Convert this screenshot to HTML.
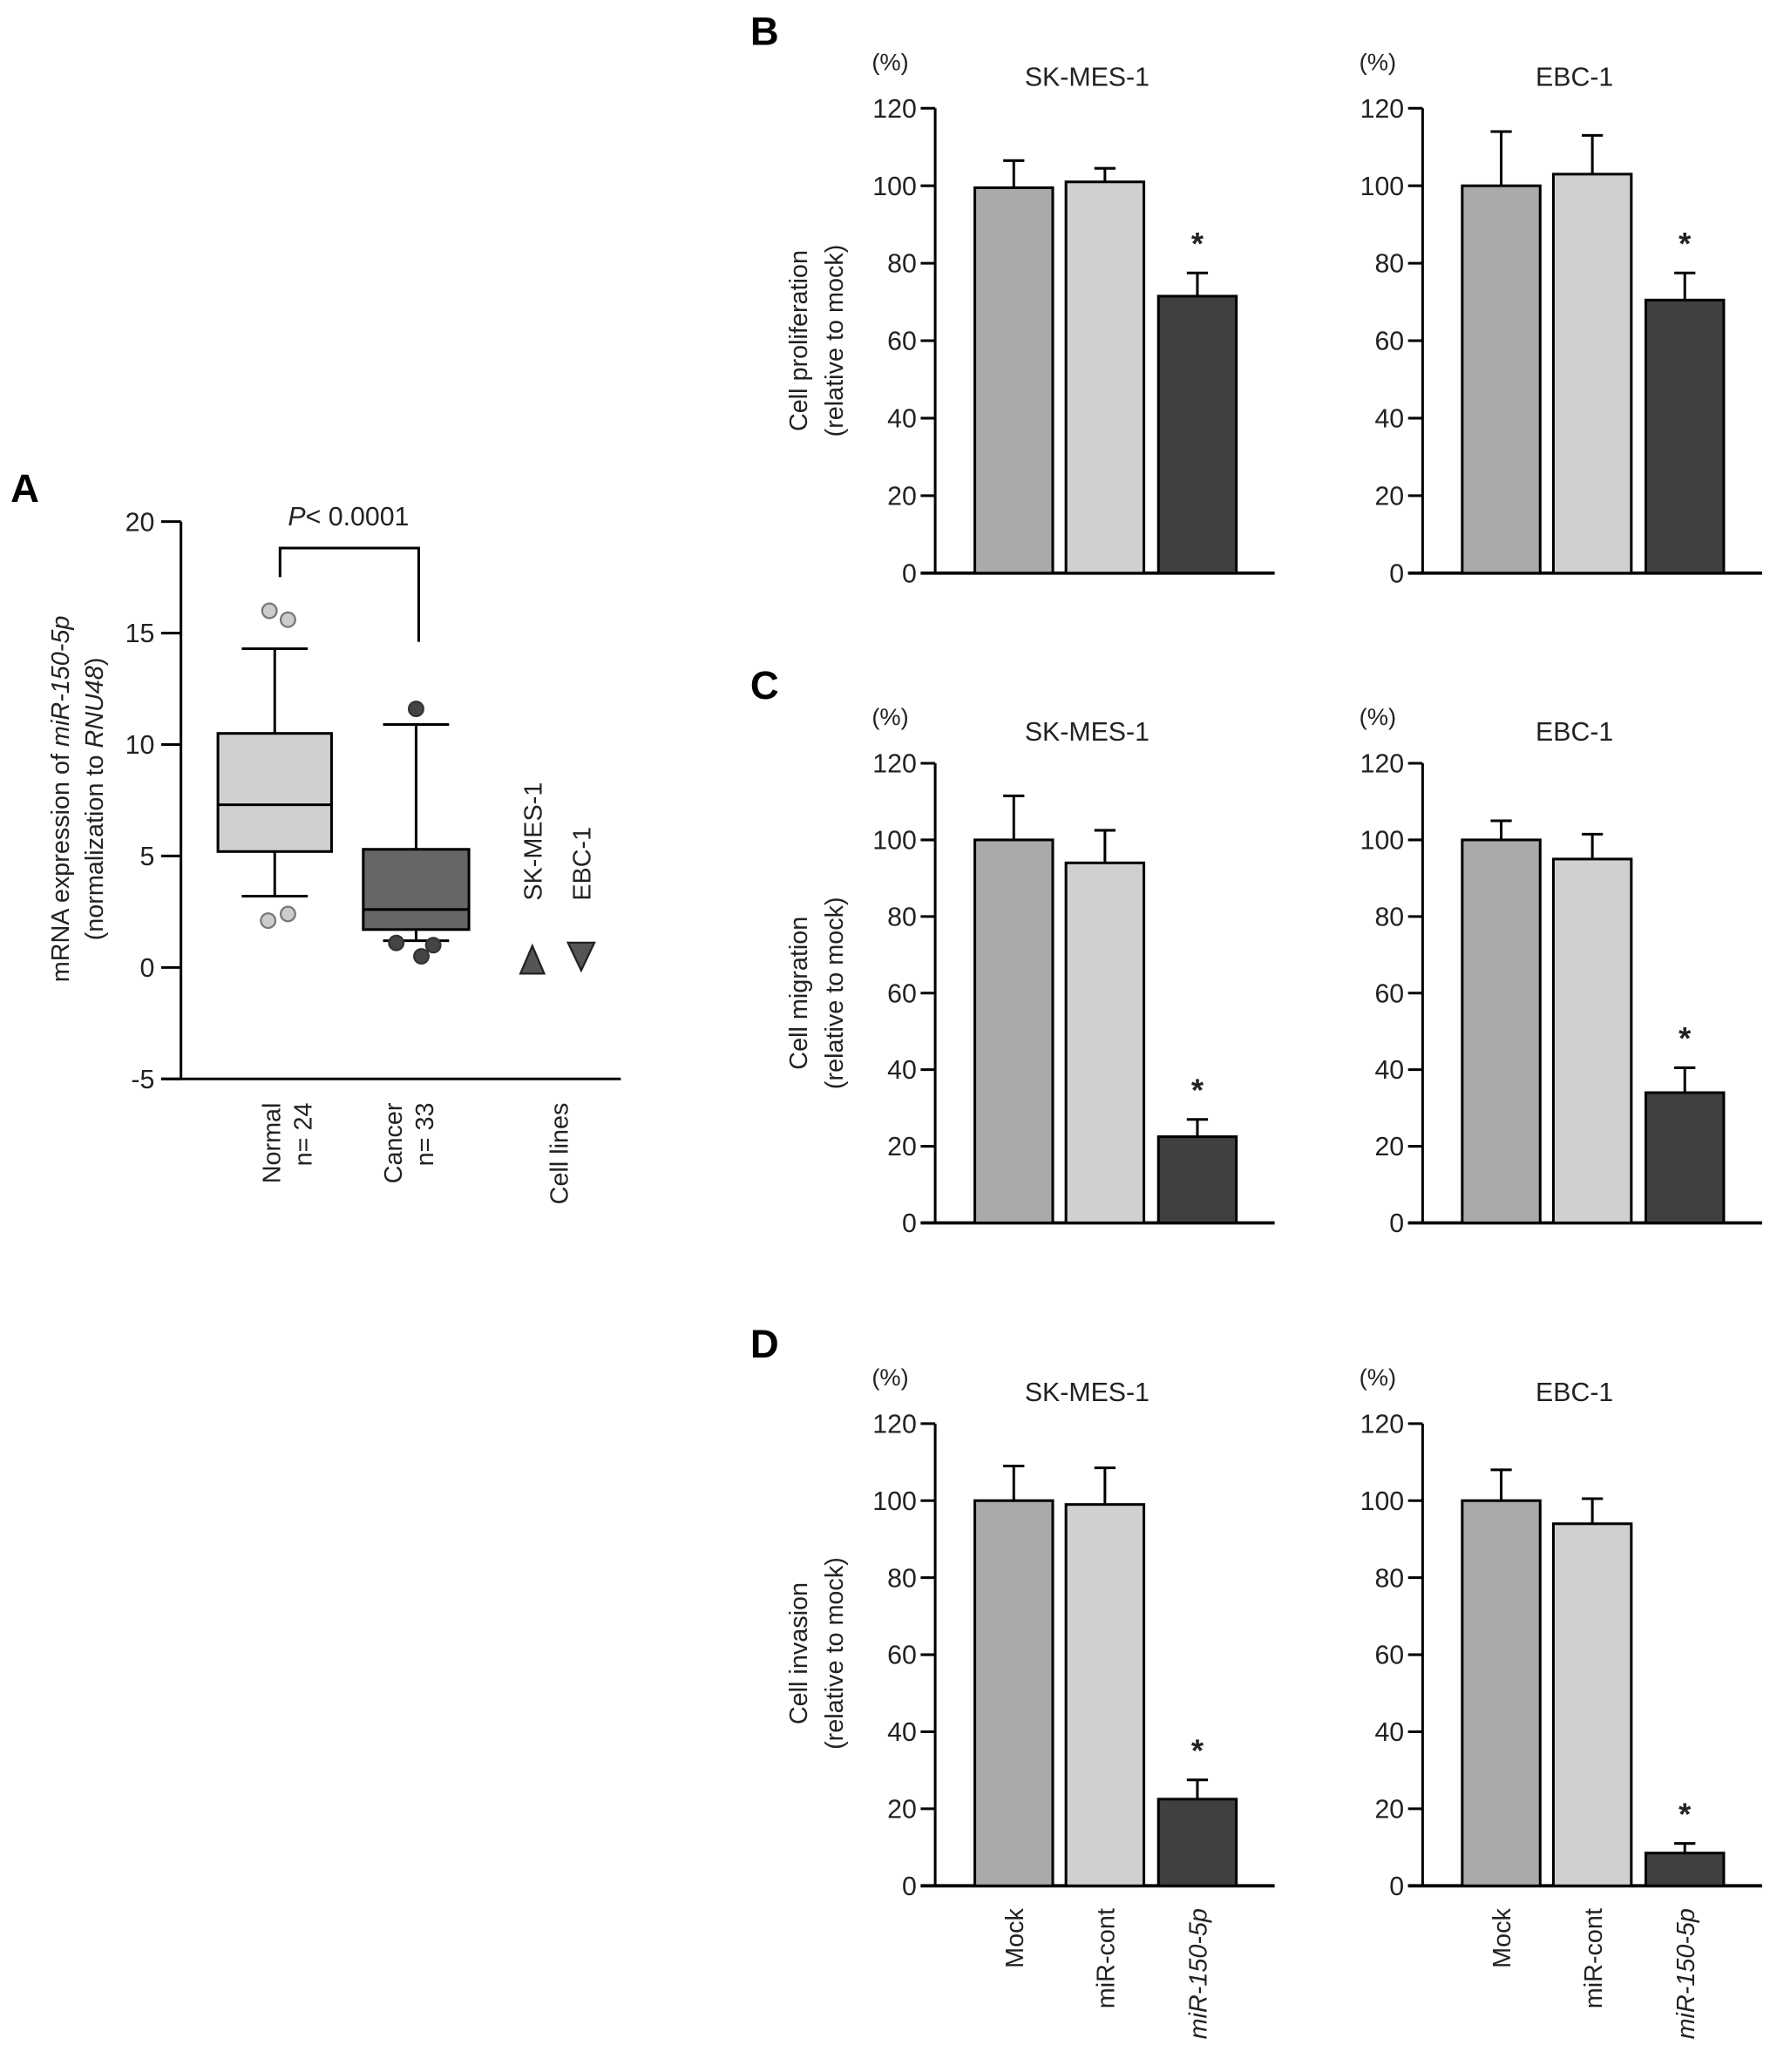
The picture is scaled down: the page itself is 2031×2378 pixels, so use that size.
<!DOCTYPE html>
<html><head><meta charset="utf-8"><style>
html,body{margin:0;padding:0;background:#fff;}
svg{display:block;font-family:"Liberation Sans",Arial,sans-serif;}
</style></head><body>
<svg id="fig" width="2031" height="2378" viewBox="0 0 1340 1569" preserveAspectRatio="none" xmlns="http://www.w3.org/2000/svg"></svg>
<script>
// ---- Panel A data ----
const boxGroups = ["Normal", "Cancer"];
const boxQ1 = [5.2, 1.7];
const boxMedian = [7.3, 2.6];
const boxQ3 = [10.5, 5.3];
const boxWhiskLo = [3.2, 1.2];
const boxWhiskHi = [14.3, 10.9];
const outlierGroup = [0, 0, 0, 0, 1, 1, 1, 1];
const outlierVals = [16.0, 15.6, 2.1, 2.4, 11.6, 1.1, 1.0, 0.5];
const outlierOffset = [-4, 10, -5, 10, 0, -15, 13, 4];
const cellLineNames = ["SK-MES-1", "EBC-1"];
const cellLineVals = [0.2, 0.4];
const aTicks = [20, 15, 10, 5, 0, -5];

// ---- Panels B-D data ----
const barCategories = ["Mock", "miR-cont", "miR-150-5p"];
const bSkVals = [99.5, 101, 71.5];
const bSkErr = [7, 3.5, 6];
const bEbcVals = [100, 103, 70.5];
const bEbcErr = [14, 10, 7];
const cSkVals = [100, 94, 22.5];
const cSkErr = [11.5, 8.5, 4.5];
const cEbcVals = [100, 95, 34];
const cEbcErr = [5, 6.5, 6.5];
const dSkVals = [100, 99, 22.5];
const dSkErr = [9, 9.5, 5];
const dEbcVals = [100, 94, 8.5];
const dEbcErr = [8, 6.5, 2.5];
const barTicks = [0, 20, 40, 60, 80, 100, 120];

const svg = document.getElementById('fig');
const NS = "http://www.w3.org/2000/svg";
function mk(tag, attrs, name, text) {
  const e = document.createElementNS(NS, tag);
  for (const k in attrs) e.setAttribute(k, attrs[k]);
  
  
  if (text !== undefined) e.textContent = text;
  svg.appendChild(e);
  return e;
}
function line(x1, y1, x2, y2, name, w) {
  return mk('line', {x1, y1, x2, y2, stroke: '#000', 'stroke-width': w || 2}, name);
}

// ===== Panel A =====
mk('text', {x: 8, y: 380, 'font-size': 30, 'font-weight': 'bold'}, 'panel-a-label', 'A');
const aX = 137, aTop = 395, aBot = 817;
const ay = v => aTop + (20 - v) * (aBot - aTop) / 25;
line(aX, aTop, aX, aBot, 'a-y-axis');
line(122, aBot, 470, aBot, 'a-x-axis');
aTicks.forEach(t => {
  line(aX - 15, ay(t), aX, ay(t), 'a-y-tick');
  mk('text', {x: aX - 20, y: ay(t) + 7, 'font-size': 20, 'text-anchor': 'end', fill: '#222'}, 'a-y-tick-label', String(t));
});
const yl = mk('text', {x: 0, y: 0, 'font-size': 19, 'text-anchor': 'middle', fill: '#222', transform: 'translate(52,605) rotate(-90)'}, 'a-y-axis-title-line1');
yl.innerHTML = 'mRNA expression of <tspan font-style="italic">miR-150-5p</tspan>';
const yl2 = mk('text', {x: 0, y: 0, 'font-size': 19, 'text-anchor': 'middle', fill: '#222', transform: 'translate(78,605) rotate(-90)'}, 'a-y-axis-title-line2');
yl2.innerHTML = '(normalization to <tspan font-style="italic">RNU48</tspan>)';

const boxCx = [208, 315], boxHalf = [43, 40];
const boxFill = ['#d0d0d0', '#666666'];
boxGroups.forEach((g, i) => {
  const cx = boxCx[i], h = boxHalf[i];
  line(cx, ay(boxWhiskHi[i]), cx, ay(boxQ3[i]), 'whisker-upper-' + g.toLowerCase());
  line(cx, ay(boxWhiskLo[i]), cx, ay(boxQ1[i]), 'whisker-lower-' + g.toLowerCase());
  line(cx - 25, ay(boxWhiskHi[i]), cx + 25, ay(boxWhiskHi[i]), 'whisker-cap-upper');
  line(cx - 25, ay(boxWhiskLo[i]), cx + 25, ay(boxWhiskLo[i]), 'whisker-cap-lower');
  mk('rect', {x: cx - h, y: ay(boxQ3[i]), width: 2 * h, height: ay(boxQ1[i]) - ay(boxQ3[i]), fill: boxFill[i], stroke: '#000', 'stroke-width': 2}, 'box-' + g.toLowerCase());
  line(cx - h, ay(boxMedian[i]), cx + h, ay(boxMedian[i]), 'median-' + g.toLowerCase());
});
outlierVals.forEach((v, i) => {
  const g = outlierGroup[i];
  mk('circle', {cx: boxCx[g] + outlierOffset[i], cy: ay(v), r: 5.5, fill: g ? '#444' : '#ccc', stroke: g ? '#333' : '#777', 'stroke-width': 1.5}, 'outlier-' + boxGroups[g].toLowerCase());
});
// cell line triangles
const triX = [403, 440];
cellLineVals.forEach((v, i) => {
  const x = triX[i], y = ay(v);
  const pts = i === 0 ? `${x-9},${y+8} ${x+9},${y+8} ${x},${y-13}` : `${x-10},${y-12} ${x+10},${y-12} ${x},${y+9}`;
  mk('polygon', {points: pts, fill: '#555', stroke: '#222', 'stroke-width': 1.5}, 'marker-' + cellLineNames[i].toLowerCase());
  mk('text', {x: 0, y: 0, 'font-size': 19, fill: '#222', transform: `translate(${x + 7},682) rotate(-90)`}, 'label-' + cellLineNames[i].toLowerCase(), cellLineNames[i]);
});
// significance bracket
mk('polyline', {points: '212,437 212,415 317,415 317,486', fill: 'none', stroke: '#000', 'stroke-width': 2}, 'significance-bracket');
const pt = mk('text', {x: 218, y: 398, 'font-size': 20, fill: '#222'}, 'p-value-label');
pt.innerHTML = '<tspan font-style="italic">P</tspan>&lt; 0.0001';
// x labels
const xl = [[212, 'Normal'], [236, 'n= 24'], [304, 'Cancer'], [328, 'n= 33'], [430, 'Cell lines']];
xl.forEach(([x, t]) => {
  mk('text', {x: 0, y: 0, 'font-size': 19, fill: '#222', 'text-anchor': 'end', transform: `translate(${x},835) rotate(-90)`}, 'a-x-label', t);
});

// ===== Bar panels =====
function barChart(prefix, axX, yTop, yBot, vals, errs, title, showX) {
  const by = v => yBot - v * (yBot - yTop) / 120;
  line(axX, yTop, axX, yBot, prefix + '-y-axis');
  line(axX - 11, yBot, axX + 257, yBot, prefix + '-x-axis', 2.5);
  barTicks.forEach(t => {
    line(axX - 11, by(t), axX, by(t), prefix + '-y-tick');
    mk('text', {x: axX - 14, y: by(t) + 7, 'font-size': 20, 'text-anchor': 'end', fill: '#222'}, prefix + '-y-tick-label', String(t));
  });
  mk('text', {x: axX - 48, y: yTop - 29, 'font-size': 18, fill: '#222'}, prefix + '-unit-label', '(%)');
  mk('text', {x: axX + 115, y: yTop - 17, 'font-size': 20, 'text-anchor': 'middle', fill: '#222'}, prefix + '-title', title);
  const bx = [30, 99, 169], bw = 59, fills = ['#aaaaaa', '#d0d0d0', '#404040'];
  vals.forEach((v, i) => {
    const x = axX + bx[i], cx = x + bw / 2;
    line(cx, by(v + errs[i]), cx, by(v), prefix + '-error-bar');
    line(cx - 8, by(v + errs[i]), cx + 8, by(v + errs[i]), prefix + '-error-cap');
    mk('rect', {x, y: by(v), width: bw, height: yBot - by(v), fill: fills[i], stroke: '#000', 'stroke-width': 2}, prefix + '-bar-' + barCategories[i].toLowerCase());
    if (i === 2) mk('text', {x: cx, y: by(v + errs[i]) - 14, 'font-size': 24, 'font-weight': 'bold', 'text-anchor': 'middle', fill: '#222'}, prefix + '-significance-star', '*');
    if (showX) {
      mk('text', {x: 0, y: 0, 'font-size': 19, fill: '#222', 'text-anchor': 'end', 'font-style': i === 2 ? 'italic' : 'normal', transform: `translate(${cx + 7},${yBot + 17}) rotate(-90)`}, prefix + '-x-label', barCategories[i]);
    }
  });
}
function yTitle(cy, l1) {
  mk('text', {x: 0, y: 0, 'font-size': 19, 'text-anchor': 'middle', fill: '#222', transform: `translate(611,${cy}) rotate(-90)`}, 'y-axis-title', l1);
  mk('text', {x: 0, y: 0, 'font-size': 19, 'text-anchor': 'middle', fill: '#222', transform: `translate(638,${cy}) rotate(-90)`}, 'y-axis-title', '(relative to mock)');
}
mk('text', {x: 568, y: 34, 'font-size': 30, 'font-weight': 'bold'}, 'panel-b-label', 'B');
barChart('b-sk', 708, 82, 434, bSkVals, bSkErr, 'SK-MES-1', false);
barChart('b-ebc', 1077, 82, 434, bEbcVals, bEbcErr, 'EBC-1', false);
yTitle(258, 'Cell proliferation');

mk('text', {x: 568, y: 529, 'font-size': 30, 'font-weight': 'bold'}, 'panel-c-label', 'C');
barChart('c-sk', 708, 578, 926, cSkVals, cSkErr, 'SK-MES-1', false);
barChart('c-ebc', 1077, 578, 926, cEbcVals, cEbcErr, 'EBC-1', false);
yTitle(752, 'Cell migration');

mk('text', {x: 568, y: 1028, 'font-size': 30, 'font-weight': 'bold'}, 'panel-d-label', 'D');
barChart('d-sk', 708, 1078, 1428, dSkVals, dSkErr, 'SK-MES-1', true);
barChart('d-ebc', 1077, 1078, 1428, dEbcVals, dEbcErr, 'EBC-1', true);
yTitle(1252, 'Cell invasion');
</script>
</body></html>
